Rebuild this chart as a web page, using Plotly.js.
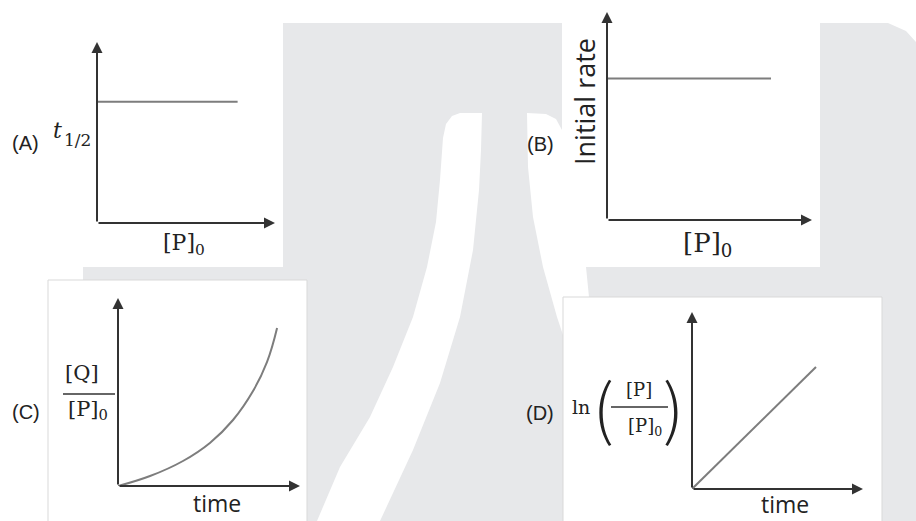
<!DOCTYPE html>
<html><head><meta charset="utf-8">
<script src="https://cdn.plot.ly/plotly-3.0.1.min.js"></script>
<style>html,body{margin:0;padding:0;background:#fff}#chart{width:916px;height:521px}</style>
</head><body><div id="chart"></div>
<script>
// ---- data (axes normalised 0..1) ----
const aX = [0, 0.79];
const aY = [0.67, 0.67];
const bX = [0, 0.80];
const bY = [0.68, 0.68];
const cX = [0, 0.176, 0.357, 0.505, 0.632, 0.742, 0.819, 0.874];
const cY = [0, 0.053, 0.133, 0.229, 0.351, 0.505, 0.66, 0.84];
const dX = [0, 0.725];
const dY = [0, 0.689];
const panelLabels = ['(A)', '(B)', '(C)', '(D)'];
const xLabels = ['[P]<sub>0</sub>', '[P]<sub>0</sub>', 'time', 'time'];
const yLabels = ['<i>t</i>|1/2', 'Initial rate', '[Q]|[P]<sub>0</sub>', 'ln|[P]|[P]<sub>0</sub>'];

// ---- layout helpers (figure pixel -> paper) ----
const W = 916, H = 521;
const px = x => x / W;
const py = y => 1 - y / H;
const pathOf = pts => 'M ' + pts.map(p => px(p[0]).toFixed(5) + ',' + py(p[1]).toFixed(5)).join(' L ') + ' Z';

const GRAY = '#e7e8ea';
const AX = '#333333';
const LINE = '#7d7d7d';
const SERIF = 'DejaVu Serif, serif';
const SANS = 'Liberation Sans, Arial, sans-serif';
const CAL = 'Open Sans, Noto Sans, sans-serif';

const domains = [
  {x: [97, 275], y: [223, 42]},
  {x: [607, 812], y: [220, 12]},
  {x: [118, 300], y: [486, 298]},
  {x: [692, 863], y: [489, 312]}
];

const series = [[aX, aY, 'linear'], [bX, bY, 'linear'], [cX, cY, 'spline'], [dX, dY, 'linear']];
const traces = series.map((s, i) => ({
  type: 'scatter', mode: 'lines', x: s[0], y: s[1],
  xaxis: 'x' + (i ? i + 1 : ''), yaxis: 'y' + (i ? i + 1 : ''),
  line: {color: LINE, width: 2, shape: s[2], smoothing: 1.2},
  cliponaxis: false, hoverinfo: 'skip'
}));

const layout = {
  width: W, height: H, margin: {l: 0, r: 0, t: 0, b: 0},
  paper_bgcolor: '#ffffff', plot_bgcolor: 'rgba(0,0,0,0)',
  showlegend: false, annotations: [], shapes: []
};

domains.forEach((d, i) => {
  const k = i ? i + 1 : '';
  const ax = {domain: [px(d.x[0]), px(d.x[1])], range: [0, 1], showgrid: false, zeroline: false,
    showline: false, showticklabels: false, ticks: '', fixedrange: true};
  const ay = {domain: [py(d.y[0]), py(d.y[1])], range: [0, 1], showgrid: false, zeroline: false,
    showline: false, showticklabels: false, ticks: '', fixedrange: true};
  layout['xaxis' + k] = Object.assign({anchor: 'y' + k}, ax);
  layout['yaxis' + k] = Object.assign({anchor: 'x' + k}, ay);
  const xr = 'x' + k, yr = 'y' + k;
  const arrow = {xref: xr, yref: yr, axref: xr, ayref: yr, ax: 0, ay: 0, text: '',
    showarrow: true, arrowhead: 2, arrowsize: 1.1, arrowwidth: 2, arrowcolor: AX};
  layout.annotations.push(Object.assign({x: 1, y: 0}, arrow));
  layout.annotations.push(Object.assign({x: 0, y: 1}, arrow));
});

// ---- background watermark ----
layout.shapes.push(
  {type: 'path', xref: 'paper', yref: 'paper', layer: 'below', fillcolor: GRAY, line: {width: 0},
   path: pathOf([[283,23],[888,23],[906,31],[916,42],[916,521],[83,521],[83,267],[283,267]])},
  {type: 'rect', xref: 'paper', yref: 'paper', layer: 'below', fillcolor: '#ffffff', line: {width: 0},
   x0: px(562), x1: px(820), y0: py(0), y1: py(267)},
  {type: 'path', xref: 'paper', yref: 'paper', layer: 'below', fillcolor: '#ffffff', line: {width: 0},
   path: pathOf([[460,113],[452,116],[446,124],[443,138],[440,180],[436,222],[427,267],[413,317],[393,367],[370,417],[340,467],[317,521],
                 [380,521],[413,450],[440,383],[460,317],[473,250],[479,190],[481,150],[482,113]])},
  {type: 'path', xref: 'paper', yref: 'paper', layer: 'below', fillcolor: '#ffffff', line: {width: 0},
   path: pathOf([[527,113],[528,167],[533,217],[543,267],[557,317],[563,335],[563,297],[589,297],[586,267],[562,267],[562,130],[556,119],[546,114]])},
  {type: 'rect', xref: 'paper', yref: 'paper', layer: 'below', fillcolor: '#ffffff', line: {color: '#d9d9d9', width: 1},
   x0: px(48), x1: px(307), y0: py(280), y1: py(530)},
  {type: 'rect', xref: 'paper', yref: 'paper', layer: 'below', fillcolor: '#ffffff', line: {color: '#d9d9d9', width: 1},
   x0: px(563), x1: px(882), y0: py(297), y1: py(530)}
);

// ---- texts ----
function txt(t, x, y, size, family, extra) {
  const f = {size: size, family: family, color: '#222'};
  if (extra && extra.weight) { f.weight = extra.weight; delete extra.weight; }
  layout.annotations.push(Object.assign({text: t, x: px(x), y: py(y), xref: 'paper', yref: 'paper',
    xanchor: 'center', yanchor: 'middle', showarrow: false, font: f}, extra || {}));
}
// panel letters
txt(panelLabels[0], 25, 143, 20, SANS);
txt(panelLabels[1], 540, 144, 20, SANS);
txt(panelLabels[2], 26, 412, 20, SANS);
txt(panelLabels[3], 540, 413, 20, SANS);
// A
const aParts = yLabels[0].split('|');
txt(aParts[0], 57, 130, 22, SERIF);
txt(aParts[1], 77, 140, 17, SERIF);
txt(xLabels[0], 184, 245, 22, SERIF);
// B
txt(yLabels[1], 584, 102, 27, CAL, {textangle: -90});
txt(xLabels[1], 707, 245, 26, SERIF);
// C
const cParts = yLabels[2].split('|');
txt(cParts[0], 82, 373, 21, SERIF);
txt(cParts[1], 88, 410, 21, SERIF);
layout.shapes.push({type: 'line', xref: 'paper', yref: 'paper', x0: px(63), x1: px(115), y0: py(394), y1: py(394),
  line: {color: AX, width: 1.5}});
txt(xLabels[2], 217, 503, 23, CAL);
// D
const dParts = yLabels[3].split('|');
txt(dParts[0], 581, 407, 19, SERIF);
txt('(', 603, 404, 66, 'Noto Sans CJK JP, Liberation Serif, serif', {weight: 200});
txt(')', 673, 404, 66, 'Noto Sans CJK JP, Liberation Serif, serif', {weight: 200});
txt(dParts[1], 639, 389, 18, SERIF);
txt(dParts[2], 645, 427, 18, SERIF);
layout.shapes.push({type: 'line', xref: 'paper', yref: 'paper', x0: px(611), x1: px(668), y0: py(407), y1: py(407),
  line: {color: AX, width: 1.5}});
txt(xLabels[3], 785, 504, 23, CAL);

Plotly.newPlot('chart', traces, layout, {staticPlot: true, displayModeBar: false});
</script>
</body></html>
